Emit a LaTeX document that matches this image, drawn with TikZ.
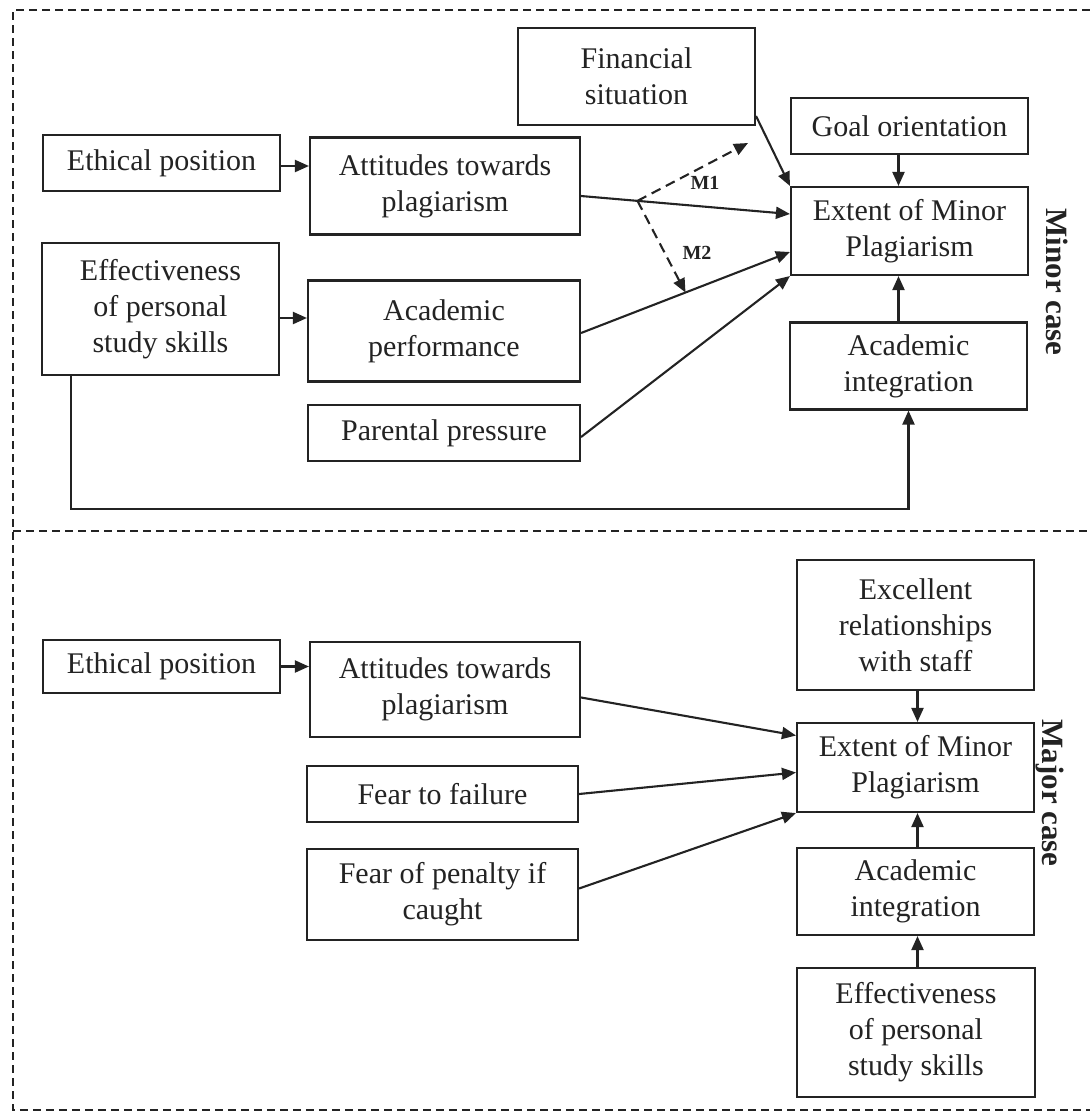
\documentclass[tikz,border=0pt]{standalone}
\usepackage{fontspec}
\setmainfont{Liberation Serif}
\usetikzlibrary{arrows.meta,calc}
\definecolor{ink}{RGB}{35,35,35}
\begin{document}
\begin{tikzpicture}[x=0.5pt,y=-0.5pt,
  box/.style={draw=ink,line width=1.05pt,align=center,inner sep=0pt,text=ink,font=\fontsize{15}{18}\selectfont},
  wh/.style 2 args={minimum width={#1*0.5pt},minimum height={#2*0.5pt}},
  arr/.style={draw=ink,line width=1.05pt,-{Triangle[length=7pt,width=6pt]}},
  dsh/.style={dash pattern=on 5pt off 3pt},
  frame/.style={draw=ink,line width=0.9pt,dash pattern=on 4pt off 2.5pt},
  lab/.style={font=\fontsize{10}{12}\selectfont\bfseries,text=ink,inner sep=1pt},
  side/.style={font=\fontsize{15.5}{18}\selectfont\bfseries,text=ink,inner sep=0pt,rotate=-90}]
\useasboundingbox (0,0) rectangle (1090,1115);
% frame
\draw[frame] (1090,10) -- (13,10) -- (13,1110) -- (1090,1110);
\draw[frame] (13,531) -- (1090,531);
% ---- Minor case ----
\node[box,wh={237}{97}] (fin) at (636.5,76.5) {Financial\\situation};
\node[box,wh={237}{56}] (goal) at (909.5,126) {Goal orientation};
\node[box,wh={237}{88}] (ext1) at (909.5,231) {Extent of Minor\\Plagiarism};
\node[box,wh={237}{87}] (ai1) at (908.5,366) {Academic\\integration};
\node[box,wh={237}{56}] (eth1) at (161.5,163) {Ethical position};
\node[box,wh={270}{97}] (att1) at (445,186) {Attitudes towards\\plagiarism};
\node[box,wh={237}{132}] (eff1) at (160.5,309) {Effectiveness\\of personal\\study skills};
\node[box,wh={272}{101}] (perf) at (444,331) {Academic\\performance};
\node[box,wh={272}{56}] (par) at (444,433) {Parental pressure};
\node[side] (minor) at (1057,282) {Minor case};

\draw[arr] ($(eth1.east)+(0,3)$) coordinate (a1) -- (a1 -| att1.west);
\draw[arr] ($(eff1.east)+(0,9)$) coordinate (a2) -- (a2 -| perf.west);
\coordinate (s1) at ($(att1.east)+(0,10)$);
\coordinate (t1) at ($(ext1.west)+(0,-17)$);
\draw[arr] (s1) -- (t1);
\coordinate (s2) at ($(perf.east)+(0,2)$);
\coordinate (t2) at ($(ext1.west)+(0,21)$);
\draw[arr] (s2) -- (t2);
\draw[arr] ($(par.east)+(0,4)$) -- (ext1.south west);
\draw[arr] ($(fin.south east)+(0,-10)$) -- (ext1.north west);
\draw[arr] ($(goal.south)+(-11,0)$) -- ($(ext1.north)+(-11,0)$);
\draw[arr] ($(ai1.north)+(-10,0)$) -- ($(ext1.south)+(-11,0)$);
\draw[arr] ($(eff1.south west)+(30,0)$) |- ($(ai1.south)+(0,98)$) -- (ai1.south);
% mediation paths
\coordinate (m) at ($(s1)!0.27!(t1)$);
\coordinate (m1) at (748,143);
\coordinate (m2) at ($(s2)!0.5!(t2)$);
\draw[arr,dsh] (m) -- (m1);
\draw[arr,dsh] (m) -- (m2);
\node[lab] (l1) at (705,183) {M1};
\node[lab] (l2) at (697,253) {M2};

% ---- Major case ----
\node[box,wh={237}{130}] (exc) at (915.5,625) {Excellent\\relationships\\with staff};
\node[box,wh={237}{89}] (ext2) at (915.5,767.5) {Extent of Minor\\Plagiarism};
\node[box,wh={237}{87}] (ai2) at (915.5,891.5) {Academic\\integration};
\node[box,wh={238}{129}] (eff2) at (916,1032.5) {Effectiveness\\of personal\\study skills};
\node[box,wh={237}{53}] (eth2) at (161.5,666.5) {Ethical position};
\node[box,wh={270}{95}] (att2) at (445,689.5) {Attitudes towards\\plagiarism};
\node[box,wh={271}{56}] (fear) at (442.5,794) {Fear to failure};
\node[box,wh={271}{91}] (pen) at (442.5,894.5) {Fear of penalty if\\caught};
\node[side] (major) at (1050,793) {Major case};

\draw[arr] (eth2.east) -- (eth2.east -| att2.west);
\draw[arr] ($(att2.east)+(0,8)$) -- ($(ext2.west)+(0,-32)$);
\draw[arr] (fear.east) -- ($(ext2.west)+(0,5)$);
\draw[arr] ($(pen.east)+(0,-6)$) -- (ext2.south west);
\draw[arr] ($(exc.south)+(2,0)$) -- ($(ext2.north)+(2,0)$);
\draw[arr] ($(ai2.north)+(2,0)$) -- ($(ext2.south)+(2,0)$);
\draw[arr] ($(eff2.north -| ai2.south)+(2,0)$) -- ($(ai2.south)+(2,0)$);
\end{tikzpicture}
\end{document}
